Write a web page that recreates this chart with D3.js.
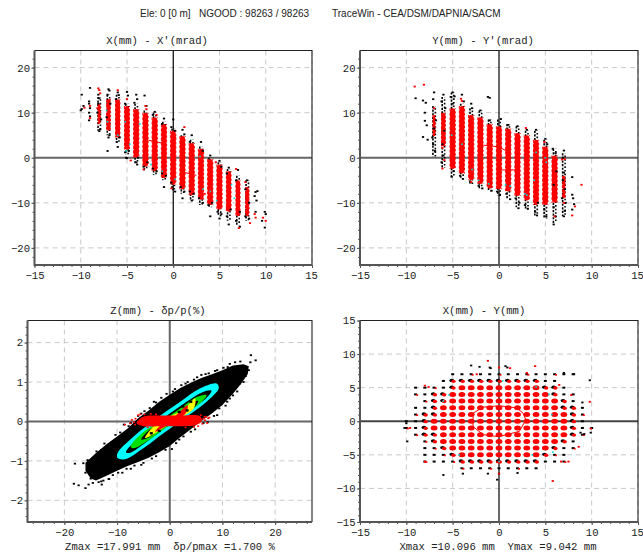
<!DOCTYPE html>
<html>
<head>
<meta charset="utf-8">
<script src="https://cdn.jsdelivr.net/npm/d3@7"></script>
<style>
  body { margin: 0; background: #fff; }
  svg { display: block; }
  .head { font-family: "Liberation Sans", sans-serif; font-size: 10px; fill: #222; }
  .mono, .tick text { font-family: "Liberation Mono", monospace; font-size: 10.6px; fill: #222; }
</style>
</head>
<body>
<svg id="chart" width="643" height="556"></svg>
<script>
// ---- X-X' columns
const xxColumns = [-8,-7,-6,-5,-4,-3,-2,-1,0,1,2,3,4,5,6,7,8];
const xxBlackLo = [6,5,3.5,0.8,-1.2,-2.8,-3.8,-5,-7,-8,-9.5,-10.5,-11,-13,-14,-15,-14];
const xxBlackHi = [13.5,14,14,12,12,10.5,10,8,6.5,5,4,2.5,0,-1,-2.5,-4,-5];
const xxRedLo = [7.5,6,4.5,1.8,0,-2,-3,-4.5,-6,-7,-8.3,-9.3,-10.5,-11.5,-12,-13,-13];
const xxRedHi = [12,13,13,11.5,10.8,10,9,7.5,6,4.8,3.3,2,-0.3,-1.5,-3,-5,-6.5];
const xxBlackDots = [[-10,10.5],[-9.9,10.8],[-9.9,14],[-9.7,11.5],[-9,15.5],[-9.1,12.5],[-9.1,12],[-9,11],[-9.1,10],[-9,9.2],[-9.1,8.3],
  [-8.1,14],[-8,13.2],[-8.1,12],[-8,5.9],[-7.9,6.3],[-8.2,10],[-7.8,8.5],[-7,15.2],[-6.9,14.9],[-7.1,14],[-6.8,12],[-7.2,9],[-6.9,5],[-7,4.5],[-7.1,1.5],
  [-6,14.5],[-5.9,13.9],[-6.2,13],[-6.1,3.5],[-6,2.4],[-5.8,4.5],[-5,14.6],[-4.9,13.8],[-5.2,12],[-5.1,0],[-5,-0.1],[-5.2,1.2],[-4.8,1.5],
  [-4,14],[-3.9,13],[-4.2,12.2],[-4,-1],[-3.9,-1.5],[-3.8,0],[-3.1,13.8],[-2.9,11.5],[-3.2,-2],[-2.8,-1],[-2,10.2],[-2.2,9.5],[-1.8,-3],[-2.2,-2.4],
  [-1,8.7],[-1.2,7.5],[-0.8,-4],[-1.2,-3.5],[-1,-6.5],[0,8.5],[-0.2,6.8],[0.2,6],[0,-7],[-0.2,-5.5],[0.2,-7.5],[1,6.2],[1.2,5.2],[0.8,-6.5],[1.2,-7.5],[1,-9],
  [2,5],[1.8,3.5],[2.2,-8],[1.8,-7.5],[2,-9.5],[3,3.5],[3.2,1.5],[2.8,-9],[3.2,-10],[4,0.5],[3.8,-10.5],[4.2,-10],[4,-13],[5,-0.7],[5.2,-2],[4.8,-12],[5.2,-12.5],[5,-13.5],
  [6,-2.2],[5.8,-3.5],[6.2,-11.5],[5.8,-13],[6,-14.8],[7,-2.7],[6.8,-5],[7.2,-12],[6.8,-14],[7.2,-15.3],[8,-5],[7.8,-7],[8.2,-10],[7.8,-13],[8.2,-13.5],
  [8.9,-7.6],[9.1,-7.4],[8.8,-8.5],[9,-9.5],[8.9,-12],[9.9,-12],[10,-12.5],[9.9,-15.5],[9.6,-14]];
const xxRedDots = [[-9.6,11.1],[-9,8.8],[-9,11.5],[-8.1,15.4],[-8,15],[-7.9,14.3],[-8.2,11],[-6,15],[-6.9,12.8],[-5,13],[-3,11.5],[-2.9,10.8],[-1.8,9.5],[0.2,4.5],[1.2,6.8],[3.4,-8],
  [4.6,-1],[5.8,-11],[6.8,-2.5],[7.1,-15.6],[7.8,-5.4],[8.3,-14.5],[8.8,-12.5],[8.9,-13.3],[9.7,-13.3],[10,-14],[-4.6,-0.6],[-3.2,-2.6],[-0.2,-6.8]];
const xxCyanDots = [[-7.2,10.5],[-7.1,8],[-6,5],[-5.2,8],[-4.7,3],[-3.6,7.5],[-2.4,-1.5],[-1.2,-3],[0.2,-4.8],[3.2,-7],[4,-7.5],[4.7,-9.5],[6.3,-6],[6.6,-9],[-5.1,1.5],[2.9,0.3]];
const xxTrail = [[[-2.7,3.9],[-1.1,3.2]], [[0.9,-3.1],[2.5,-3.9]]];

// ---- Y-Y' columns
const yyColumns = [-7,-6,-5,-4,-3,-2,-1,0,1,2,3,4,5,6,7];
const yyBlackLo = [0.3,-2.3,-4.3,-4.5,-5.8,-6.8,-7.5,-8.3,-9,-11,-11.5,-12.8,-13.5,-14.5,-13];
const yyBlackHi = [11.5,13.5,14.5,12,11,10.5,8.5,8.5,7.5,7,6,6,4,2,1];
const yyRedLo = [5,2.5,-2.5,-3.5,-5,-5.8,-6.8,-7,-7.5,-8.5,-9.5,-10.5,-10.5,-10,-9];
const yyRedHi = [9.5,10,11,11.5,9.5,9,7.5,7,6.5,5.5,5,4,2.5,0.5,-4];
const yyBlackDots = [[-9,13.2],[-8.2,12.7],[-7.9,12.2],[-8,10],[-8,8.2],[-7.8,7.2],[-8.2,4.6],[-7.7,4],[-7,14.5],[-7.1,13],[-6.9,1.5],[-7.1,3],[-7,6.5],[-6.8,8.3],[-7.2,4.5],
  [-6,14],[-6.2,12.5],[-5.8,11],[-5.9,6],[-6.1,3],[-6,0.5],[-6.2,-1],[-5,14.5],[-4.8,13.6],[-5.2,13.5],[-5,12],[-4.9,-3],[-5.1,-4.2],[-4,14],[-3.8,12.5],[-4.2,-4],[-3.9,-4.7],
  [-3,12],[-2.9,11],[-3.1,-5.5],[-2,10.5],[-2.2,-6.2],[-1.8,-6.8],[-1.2,13.5],[-1,13.3],[-1,8.3],[-0.8,-7.3],[0.2,8.6],[0.1,-8.3],[-0.2,-7.5],[1,7.3],[0.8,-8],[1.2,-9.2],
  [2,7],[1.8,-9],[2.2,-10],[2.1,-11.2],[3,6.2],[2.8,-10.5],[3.1,-11.3],[4,6.2],[3.9,-12],[4.1,-12.8],[4.2,-10],[5,4.2],[5.2,3],[4.9,-11.5],[5.1,-13],[5.8,2],[6.1,1],[5.9,-11],[6.1,-13],[5.9,-14.8],
  [6.2,-3],[5.9,-6],[7,1.6],[6.9,0],[7,-3.3],[6.9,-5],[7.1,-7],[6.8,-9],[7.2,-10],[7.1,-11.8],[7,-13],[7.9,-4.3],[7.9,-8.2],[8,-9],[8.1,-10.3],[7.9,-11.5]];
const yyRedDots = [[-9.1,15.8],[-8.1,16.2],[-7,11],[-7,5],[-6.1,2.2],[-6.1,-2.4],[-5.1,-2],[-4,12.6],[-4.1,13.1],[-3,-5.4],[2.9,6.6],[3.2,-8],[4.9,3.5],[6.2,-0.3],[6.8,-0.4],[7.1,-0.3],
  [6,-13],[7,-10],[7.9,-12.8],[8.2,-10.8],[8.9,-6],[5.1,-9.5],[-5.9,-0.5]];
const yyCyanDots = [[-5.1,5],[-4,3],[-2.2,-5],[-1.1,-5.8],[0.7,-6],[1.2,-6.3],[2.8,-8],[3,-8.3],[3.8,-5],[5,0],[5.1,-1],[4,1.2],[-2.9,-2.6]];
const yyTrail = [[[-1.7,2.8],[0,2.4],[1.3,1]], [[0,-2.7],[1.9,-2.7]]];

// ---- Z-dp/p outlines, outermost first
const zCloud = [[-16,-1.05],[-14,-0.8],[-12,-0.58],[-10,-0.38],[-8,-0.18],[-6,0.08],[-4,0.28],[-2,0.5],[0,0.68],[2,0.85],[4,0.98],[6,1.1],[8,1.2],[10,1.3],[12,1.42],[14,1.45],[15,1.4],
  [14.8,1.2],[13.5,0.95],[12,0.7],[10,0.42],[8,0.2],[6,0.02],[4,-0.2],[2,-0.4],[0,-0.62],[-2,-0.78],[-4,-0.92],[-6,-1.03],[-8,-1.13],[-10,-1.25],[-12,-1.38],[-14,-1.5],[-15,-1.45],[-16,-1.25]];
const zCyan = [[-9.9,-0.8],[-6.9,-0.39],[-2.5,0.08],[2,0.5],[5.8,0.84],[8.9,0.96],[9.3,0.84],[7,0.5],[3.2,0.12],[-1.2,-0.3],[-5,-0.68],[-8.5,-0.96],[-9.9,-0.93]];
const zInner = [[-8.3,-0.78],[-6.1,-0.43],[-2.2,-0.02],[2.6,0.44],[6.2,0.74],[7.9,0.78],[7,0.6],[3.2,0.22],[-1.2,-0.2],[-5,-0.58],[-7.6,-0.8]];
const zGreen = [[-7.4,-0.64],[-5.3,-0.3],[-1.8,-0.01],[2,0.33],[5.1,0.62],[7,0.67],[6.1,0.5],[2.6,0.16],[-1.8,-0.26],[-5,-0.56],[-6.8,-0.68]];
const zCore = [[-5.4,-0.46],[-3.9,-0.22],[-1,0.03],[2.4,0.27],[4.4,0.5],[5.4,0.52],[4.8,0.38],[2.4,0.16],[-1.4,-0.16],[-4.2,-0.42]];
const zYellow = [[-4.7,-0.42],[-2.9,-0.1],[0,0.12],[2.6,0.3],[4.8,0.58],[4.6,0.34],[2.4,0.12],[0,-0.06],[-3,-0.32]];
const zRed = [[-2.8,-0.26],[-1.2,-0.04],[1,0.14],[3.4,0.41],[3,0.2],[1,0.02],[-1,-0.14]];
const zBeam = [[-6.3,-0.04],[-5,0.12],[-2,0.15],[2,0.15],[5.8,0.13],[6,0],[5,-0.09],[2,-0.12],[-2,-0.12],[-5,-0.12]];
const zCoreSpots = [[-2,-0.24],[-1,-0.05],[0.6,0.08],[2.5,0.38],[3.3,0.28],[4,0.5],[-3.5,-0.3],[1.8,0.24]];
const zBlackDots = [[-18,-1.07],[-16.4,-1.06],[-16,-1.3],[-15.4,-1.08],[-15,-1.45],[-14.7,-0.96],[-13.9,-0.76],[-13.5,-1.54],[-12.9,-1.6],[-12.4,-0.56],[-11.6,-1.46],[-10.8,-1.36],[-10.3,-0.34],[-9.8,-1.3],[-8.7,-0.08],[-8.2,-1.2],
  [-7.4,-0.04],[-6.7,-1.12],[-6,0.14],[-5.4,0.2],[-5,-1.05],[-3.8,0.34],[-3,0.5],[-2.6,-0.88],[-1.6,0.6],[-0.6,0.7],[0.4,-0.7],[0.6,0.76],[1.2,-0.55],[2.2,0.92],[2.6,-0.38],[3.4,1],[4.8,-0.2],
  [5.2,1.12],[6,1.18],[6.8,1.2],[7.2,-0.02],[8.6,1.28],[9,0.16],[9.4,0.33],[10.2,1.36],[10.6,0.4],[11.4,1.46],[11.4,0.58],[12.4,1.5],[12.8,0.76],[13.4,1.52],[13.2,0.95],[14,1],[14.4,1.15],[15,1.3],[15.3,1.5],
  [15.4,1.68],[16.3,1.55],[-18.2,-1.58],[-17.3,-1.62],[-16,-1.69],[-15.4,-1.6],[-13,-1.52],[-11.5,-1.46],
  [-15.6,-0.98],[-13,-0.72],[-11,-0.52],[-9.4,-0.28],[-7.8,-0.12],[-4.8,0.26],[-2.6,0.48],[1,0.82],[3,0.96],[4.6,1.06],[7.4,1.22],[9,1.3],[11,1.38],[12,0.66],[10.9,0.5],[8.4,0.14],[6.4,-0.04],[4,-0.26],[1.8,-0.46],[-0.8,-0.72],[-3.4,-0.94],[-5.4,-1.1],[-7.4,-1.2],[-9,-1.3],[-12.6,-1.5],[-14.6,-1.56]];
const zRedDots = [[-8.5,-0.08],[-7.5,-0.05],[-7.2,0.04],[-6.8,-0.02],[-6.5,0.07],[-6.6,-0.08],[-6,0.16],[-5.6,0.18],[-4.8,0.18],[-3.6,0.19],[-2.6,0.18],[6,0.05],[6.2,-0.06],[6.4,0.07],[6.7,0.03],[6.9,0.12],
  [7.1,-0.04],[7.3,0.08],[7.5,0.1],[5.9,0.16],[5.4,-0.12],[6.6,0.12],[4.6,-0.14],[3,-0.15],[-4.2,-0.15]];

// ---- X-Y lattice, one row per Y
const rowY = [7,6,5,4,3,2,1,0,-1,-2,-3,-4,-5,-6,-7];
const rowSmallLo = [-5,-6,-9,-9,-8,-9,-9,-10,-10,-9,-8,-8,-8,-8,-4];
const rowSmallHi = [8,6,7,8,8,9,9,9,10,9,8,8,7,7,4];
const rowMidLo = [0,-5,-5,-7,-7,-7,-8,-8,-8,-8,-7,-6,-5,-4,0];
const rowMidHi = [0,4,6,6,7,8,8,8,8,8,7,6,5,4,0];
const rowBigLo = [0,0,-4,-5,-5,-6,-6,-7,-7,-6,-6,-5,-4,0,0];
const rowBigHi = [0,0,4,5,6,6,7,7,7,7,6,5,4,0,0];
const xyBlackDots = [[-3,8.3],[-2.1,8.1],[-0.9,7.9],[-1,8],[0.7,8.2],[0.9,8],[-6,-8],[-3.9,-7.8],[-1.2,-7.8],[-0.2,-8.7],[0,-7.8],[2,-7.7],[7,7.2],[8.1,7],[9.8,6.1],[9,2.8],[9.9,-1.7],[9.2,-1.9],[8.8,-1.7],[-9.9,-3],[-10.2,-1],[-10,-0.3]];
const xyRedDots = [[-1.2,9],[0,8],[1.2,7.9],[3.9,8.2],[-8,5.3],[-7.6,5.1],[-8,-6],[5.8,-8.9],[6.7,-6],[7.5,-6],[8.6,-3.8],[9.9,-1.1],[9.8,2.9],[-9.6,-1],[0,-7.8],[-0.2,-6.1],[6.5,5.4],[7.8,3.9],[-2.4,7],[3,7.2],[4.1,6]];
const xyCyanDots = [[-5.4,3.9],[-4.3,-5],[0,-6],[0.4,6],[4,5.1],[5.4,4],[5.8,-4.6],[-6,3],[3.6,-5],[5.7,1]];
const xyTrail = [[-2.8,1.2],[-1.7,2.1],[0,2.3],[1.9,2],[2.6,1.2],[2.9,0.2],[2.2,-1.5],[0,-2.3],[-1.7,-2],[-2.8,-0.8]];

const svg = d3.select("#chart");

// frame and scales for one plot
function setupPanel(cfg) {
  const x = d3.scaleLinear().domain(cfg.xDomain).range([cfg.left, cfg.right]);
  const y = d3.scaleLinear().domain(cfg.yDomain).range([cfg.bottom, cfg.top]);
  const g = svg.append("g");

  // dashed grid
  g.selectAll(".gx").data(cfg.xTicks.filter(d => d !== 0)).join("line")
    .attr("x1", d => x(d)).attr("x2", d => x(d)).attr("y1", cfg.top).attr("y2", cfg.bottom)
    .attr("stroke", "#c8c8c8").attr("stroke-dasharray", "5,4");
  g.selectAll(".gy").data(cfg.yTicks.filter(d => d !== 0)).join("line")
    .attr("y1", d => y(d)).attr("y2", d => y(d)).attr("x1", cfg.left).attr("x2", cfg.right)
    .attr("stroke", "#c8c8c8").attr("stroke-dasharray", "5,4");

  // minor ticks first, labelled ticks on top
  g.append("g").attr("transform", `translate(0,${cfg.bottom})`)
    .call(d3.axisBottom(x).tickValues(cfg.xMinor).tickSize(2).tickFormat(""))
    .call(a => a.select(".domain").remove());
  g.append("g").attr("transform", `translate(${cfg.left},0)`)
    .call(d3.axisLeft(y).tickValues(cfg.yMinor).tickSize(2).tickFormat(""))
    .call(a => a.select(".domain").remove());
  g.append("g").attr("transform", `translate(0,${cfg.bottom})`)
    .call(d3.axisBottom(x).tickValues(cfg.xTicks).tickSize(3).tickPadding(3.5).tickFormat(d3.format("d")))
    .call(a => a.select(".domain").remove())
    .call(a => a.selectAll(".tick text").attr("dx", d => d === 15 ? -1 : 0));
  g.append("g").attr("transform", `translate(${cfg.left},0)`)
    .call(d3.axisLeft(y).tickValues(cfg.yTicks).tickSize(3).tickPadding(1.5).tickFormat(d3.format("d")))
    .call(a => a.select(".domain").remove());
  g.selectAll(".tick line").attr("stroke", "#555");

  g.append("text").attr("class", "mono").attr("text-anchor", "middle")
    .attr("x", cfg.titleX).attr("y", cfg.top - 7).text(cfg.title);
  if (cfg.footer) {
    g.append("text").attr("class", "mono").attr("text-anchor", "middle")
      .style("white-space", "pre").attr("x", cfg.footerX).attr("y", cfg.bottom + 28).text(cfg.footer);
  }
  const marks = svg.append("g");
  return { x, y, marks, cfg };
}

// zero lines and border sit under the marks of the panel
function drawFrame(p, zeroX, zeroY) {
  const { x, y, cfg } = p;
  const f = svg.insert("g", () => p.marks.node());
  f.append("line").attr("x1", x(0)).attr("x2", x(0)).attr("y1", cfg.top).attr("y2", cfg.bottom)
    .attr("stroke", zeroX).attr("stroke-width", zeroX === "#000" ? 1.2 : 2);
  f.append("line").attr("y1", y(0)).attr("y2", y(0)).attr("x1", cfg.left).attr("x2", cfg.right)
    .attr("stroke", zeroY).attr("stroke-width", 2);
  f.append("path").attr("fill", "none").attr("stroke", "#222").attr("stroke-width", 1.1)
    .attr("d", `M${cfg.left},${cfg.top}H${cfg.right}V${cfg.bottom}`);
  f.append("path").attr("fill", "none").attr("stroke", "#555").attr("stroke-width", 2)
    .attr("d", `M${cfg.left},${cfg.top}V${cfg.bottom}H${cfg.right}`);
}

function dots(p, data, color, w, h) {
  p.marks.append("g").selectAll("rect").data(data).join("rect")
    .attr("x", d => p.x(d[0]) - w / 2).attr("y", d => p.y(d[1]) - h / 2)
    .attr("width", w).attr("height", h).attr("fill", color);
}

function trails(p, list) {
  const line = d3.line().x(d => p.x(d[0])).y(d => p.y(d[1]));
  p.marks.append("g").selectAll("path").data(list).join("path")
    .attr("d", line).attr("fill", "none").attr("stroke", "#f00").attr("stroke-width", 1);
}

// one speckled stroke along every column
function speckle(p, xs, lo, hi, color, offset, sw, dash, dashOffset) {
  p.marks.append("g").selectAll("line").data(xs).join("line")
    .attr("x1", (d, i) => p.x(d) + offset(i)).attr("x2", (d, i) => p.x(d) + offset(i))
    .attr("y1", (d, i) => p.y(hi[i])).attr("y2", (d, i) => p.y(lo[i]))
    .attr("stroke", color).attr("stroke-width", sw)
    .attr("stroke-dasharray", dash).attr("stroke-dashoffset", dashOffset);
}

function columns(p, xs, blackLo, blackHi, redLo, redHi) {
  const redW = d3.scaleLinear().domain([4, 10]).range([2, 5.2]).clamp(true);
  const width = i => redW(redHi[i] - redLo[i]);
  speckle(p, xs, blackLo, blackHi, "#000", () => -1.2, 1.6, "2.2,1.4", 0);
  speckle(p, xs, blackLo, blackHi, "#000", () => 1.2, 1.6, "1.6,2", 1.3);
  p.marks.append("g").selectAll("rect").data(xs).join("rect")
    .attr("x", (d, i) => p.x(d) - width(i) / 2)
    .attr("width", (d, i) => width(i))
    .attr("y", (d, i) => p.y(redHi[i]))
    .attr("height", (d, i) => p.y(redLo[i]) - p.y(redHi[i]))
    .attr("rx", (d, i) => width(i) / 2)
    .attr("ry", 4)
    .attr("fill", "#f00");
  speckle(p, xs, redLo, redHi, "#f00", i => -width(i) / 2, 1, "3,1.6", 0);
  speckle(p, xs, redLo, redHi, "#f00", i => width(i) / 2, 1, "2,2.2", 1);
}

const xxTicks = [-15,-10,-5,0,5,10,15];
const oneStep = [-15,-14,-13,-12,-11,-10,-9,-8,-7,-6,-5,-4,-3,-2,-1,0,1,2,3,4,5,6,7,8,9,10,11,12,13,14,15];
const angleTicks = [-20,-10,0,10,20];
const angleMinor = [-22,-20,-18,-16,-14,-12,-10,-8,-6,-4,-2,0,2,4,6,8,10,12,14,16,18,20,22];

// ---- top left
const pXX = setupPanel({ left: 34.5, right: 312, top: 50.5, bottom: 265, xDomain: [-15, 15], yDomain: [-23.8, 23.8],
  xTicks: xxTicks, yTicks: angleTicks, xMinor: oneStep, yMinor: angleMinor, title: "X(mm) - X'(mrad)", titleX: 157 });
columns(pXX, xxColumns, xxBlackLo, xxBlackHi, xxRedLo, xxRedHi);
dots(pXX, xxBlackDots, "#000", 2.2, 1.8);
dots(pXX, xxCyanDots, "#00d8d8", 1.6, 1.6);
dots(pXX, xxRedDots, "#f00", 2.2, 1.8);
trails(pXX, xxTrail);
drawFrame(pXX, "#000", "#666");

// ---- top right
const pYY = setupPanel({ left: 360, right: 638, top: 50.5, bottom: 265, xDomain: [-15, 15], yDomain: [-23.8, 23.8],
  xTicks: xxTicks, yTicks: angleTicks, xMinor: oneStep, yMinor: angleMinor, title: "Y(mm) - Y'(mrad)", titleX: 483 });
columns(pYY, yyColumns, yyBlackLo, yyBlackHi, yyRedLo, yyRedHi);
dots(pYY, yyBlackDots, "#000", 2.2, 1.8);
dots(pYY, yyCyanDots, "#00d8d8", 1.6, 1.6);
dots(pYY, yyRedDots, "#f00", 2.2, 1.8);
trails(pYY, yyTrail);
drawFrame(pYY, "#000", "#666");

// ---- bottom left
const pZ = setupPanel({ left: 27.5, right: 312, top: 320.5, bottom: 522, xDomain: [-27, 27], yDomain: [-2.55, 2.56],
  xTicks: [-20,-10,0,10,20], yTicks: [-2,-1,0,1,2],
  xMinor: [-26,-24,-22,-20,-18,-16,-14,-12,-10,-8,-6,-4,-2,0,2,4,6,8,10,12,14,16,18,20,22,24,26],
  yMinor: [-2.4,-2.2,-2,-1.8,-1.6,-1.4,-1.2,-1,-0.8,-0.6,-0.4,-0.2,0,0.2,0.4,0.6,0.8,1,1.2,1.4,1.6,1.8,2,2.2,2.4],
  title: "Z(mm) - δp/p(%)", titleX: 158, footer: "Zmax =17.991 mm  δp/pmax =1.700 %", footerX: 170 });
const zLine = d3.line().x(d => pZ.x(d[0])).y(d => pZ.y(d[1])).curve(d3.curveCatmullRomClosed);
const zEdge = d3.line().x(d => pZ.x(d[0])).y(d => pZ.y(d[1])).curve(d3.curveLinearClosed);
pZ.marks.append("path").attr("d", zEdge(zCloud)).attr("fill", "#000");
[[zCyan,"#00ffff"],[zInner,"#000"],[zGreen,"#00e000"],[zCore,"#000"],[zYellow,"#ffff00"],[zRed,"#f00"]].forEach(s => {
  pZ.marks.append("path").attr("d", zLine(s[0])).attr("fill", s[1]);
});
dots(pZ, zCoreSpots, "#000", 3, 2.4);
dots(pZ, zBlackDots, "#000", 2.2, 1.8);
pZ.marks.append("path").attr("d", zLine(zBeam)).attr("fill", "#f00");
dots(pZ, zRedDots, "#f00", 2, 1.6);
drawFrame(pZ, "#666", "#666");

// ---- bottom right
const pXY = setupPanel({ left: 360, right: 638, top: 320.5, bottom: 522, xDomain: [-15, 15], yDomain: [-15, 15],
  xTicks: xxTicks, yTicks: [-15,-10,-5,0,5,10,15], xMinor: oneStep, yMinor: oneStep,
  title: "X(mm) - Y(mm)", titleX: 484, footer: "Xmax =10.096 mm  Ymax =9.042 mm", footerX: 498 });
const columnsAll = xxColumns.concat([-10,-9,9,10]);
rowY.forEach((yv, i) => {
  columnsAll.forEach(xv => {
    const cx = pXY.x(xv), cy = pXY.y(yv);
    if (xv >= rowBigLo[i] && xv <= rowBigHi[i] && rowBigHi[i] !== rowBigLo[i]) {
      pXY.marks.append("ellipse").attr("cx", cx).attr("cy", cy).attr("rx", 3.4).attr("ry", 2.5).attr("fill", "#f00");
    } else if (xv >= rowMidLo[i] && xv <= rowMidHi[i] && rowMidHi[i] !== rowMidLo[i]) {
      pXY.marks.append("ellipse").attr("cx", cx - 0.9).attr("cy", cy - 0.5).attr("rx", 2.4).attr("ry", 1.7).attr("fill", "#000");
      pXY.marks.append("ellipse").attr("cx", cx + 0.8).attr("cy", cy + 0.4).attr("rx", 2.2).attr("ry", 1.7).attr("fill", "#f00");
    } else if (xv >= rowSmallLo[i] && xv <= rowSmallHi[i]) {
      pXY.marks.append("rect").attr("x", cx - 1.5).attr("y", cy - 1).attr("width", 3).attr("height", 2).attr("fill", "#000");
      if ((xv + yv + 20) % 3 === 0) {
        pXY.marks.append("rect").attr("x", cx + 0.5).attr("y", cy - 0.2).attr("width", 2).attr("height", 1.6).attr("fill", "#f00");
      }
    }
  });
});
dots(pXY, xyBlackDots, "#000", 2.2, 1.8);
dots(pXY, xyCyanDots, "#00d8d8", 1.6, 1.6);
dots(pXY, xyRedDots, "#f00", 2.2, 1.8);
trails(pXY, [xyTrail.concat([xyTrail[0]])]);
drawFrame(pXY, "#000", "#444");

// ---- page header
svg.append("text").attr("class", "head").attr("x", 140).attr("y", 17).text("Ele: 0 [0 m]");
svg.append("text").attr("class", "head").attr("x", 199).attr("y", 17).text("NGOOD : 98263 / 98263");
svg.append("text").attr("class", "head").attr("x", 332).attr("y", 17).text("TraceWin - CEA/DSM/DAPNIA/SACM");
</script>
</body>
</html>
